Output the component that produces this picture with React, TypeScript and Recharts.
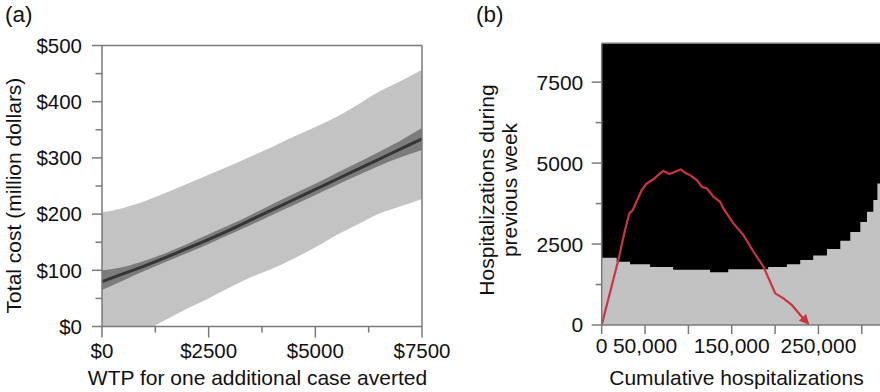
import React from "react";
import {
  ComposedChart,
  Area,
  Line,
  XAxis,
  YAxis,
  ReferenceLine,
  CartesianGrid,
  Label,
} from "recharts";

// ---------- Panel (a) data ----------
const wtp = [0, 500, 1000, 1500, 2000, 2500, 3000, 3500, 4000, 4500, 5000, 5500, 6000, 6500, 7000, 7500];
const outerLow = [-55, -35, -9, 12, 32, 50, 70, 88, 103, 121, 141, 163, 182, 201, 214, 227];
const outerHigh = [203, 211, 223, 238, 254, 270, 286, 303, 320, 338, 355, 373, 395, 418, 437, 457];
const innerLow = [65, 82, 99, 115, 131, 147, 164, 181, 199, 216, 234, 252, 269, 286, 301, 314];
const innerHigh = [100, 106, 117, 131, 147, 164, 181, 199, 218, 236, 254, 273, 292, 311, 331, 353];
const meanCost = [80, 94, 108, 123, 139, 155, 172, 190, 208, 226, 244, 262, 280, 298, 316, 334];

const costTicks = [0, 50, 100, 150, 200, 250, 300, 350, 400, 450, 500];
const costLabelTicks = [0, 100, 200, 300, 400, 500];
const wtpTicks = [0, 1250, 2500, 3750, 5000, 6250, 7500];
const wtpLabelTicks = [0, 2500, 5000, 7500];

// ---------- Panel (b) data ----------
const boundaryCum = [0, 17300, 32700, 55800, 82300, 125000, 146000, 192000, 213600, 229000, 244000, 259800, 275200, 286700, 298300, 306000, 313300, 318000, 321000];
const boundaryWeekly = [2080, 1950, 1880, 1790, 1710, 1630, 1720, 1790, 1880, 2010, 2150, 2350, 2600, 2870, 3180, 3500, 3860, 4370, 4900];

const trajCum = [0, 19200, 26900, 31900, 35800, 46200, 52000, 59600, 67300, 71100, 78100, 84600, 91200, 96200, 102000, 109700, 115500, 121200, 128900, 136600, 140400, 152000, 163500, 175100, 186600, 194300, 200100, 209700, 219400, 229000, 238600];
const trajWeekly = [0, 2006, 2932, 3447, 3549, 4166, 4372, 4496, 4681, 4763, 4660, 4732, 4804, 4700, 4630, 4475, 4269, 4218, 3960, 3806, 3600, 3138, 2777, 2262, 1800, 1337, 978, 824, 617, 309, 31];

const weeklyTop = 8700;
const cumMax = 321000;
const weeklyTicks = [0, 1250, 2500, 3750, 5000, 6250, 7500];
const weeklyLabelTicks = [0, 2500, 5000, 7500];
const cumTicks = [0, 50000, 100000, 150000, 200000, 250000, 300000];
const cumLabelTicks = [0, 50000, 150000, 250000];

const dataA = wtp.map((x, i) => ({
  x,
  outer: [outerLow[i], outerHigh[i]],
  inner: [innerLow[i], innerHigh[i]],
  mean: meanCost[i],
}));
const dataBoundary = boundaryCum.map((x, i) => ({ x, lo: boundaryWeekly[i] }));
const dataTraj = trajCum.map((x, i) => ({ x, w: trajWeekly[i] }));

const FONT = "'Liberation Sans', Arial, Helvetica, sans-serif";
const AXIS = "#7a7a7a";

const fmtNum = (v: number) => v.toLocaleString("en-US");

function makeYTick(labels: number[], fmt: (v: number) => string, majorLen: number, minorLen: number, gap: number, fontSize: number) {
  return (props: any) => {
    const { x, y, payload } = props;
    const isMajor = labels.includes(payload.value);
    const len = isMajor ? majorLen : minorLen;
    return (
      <g>
        <line x1={x - len} x2={x} y1={y} y2={y} stroke={AXIS} strokeWidth={1.5} />
        {isMajor && (
          <text x={x - gap} y={y} dy="0.355em" textAnchor="end" fontSize={fontSize} fontFamily={FONT} fill="#111">
            {fmt(payload.value)}
          </text>
        )}
      </g>
    );
  };
}

function makeXTick(labels: number[], fmt: (v: number) => string, majorLen: number, minorLen: number, baseline: number, fontSize: number) {
  return (props: any) => {
    const { x, y, payload } = props;
    const isMajor = labels.includes(payload.value);
    const len = isMajor ? majorLen : minorLen;
    return (
      <g>
        <line x1={x} x2={x} y1={y} y2={y + len} stroke={AXIS} strokeWidth={1.5} />
        {isMajor && (
          <text x={x} y={y + baseline} textAnchor="middle" fontSize={fontSize} fontFamily={FONT} fill="#111">
            {fmt(payload.value)}
          </text>
        )}
      </g>
    );
  };
}

const YTickA = makeYTick(costLabelTicks, (v) => `$${v}`, 10, 6.5, 20, 20.5);
const XTickA = makeXTick(wtpLabelTicks, (v) => `$${v}`, 11, 6, 31.5, 20.5);
const YTickB = makeYTick(weeklyLabelTicks, (v) => `${v}`, 10, 6, 18.4, 21);
const XTickB = makeXTick(cumLabelTicks, fmtNum, 9, 9, 28, 21);

export default function App() {
  return (
    <div style={{ position: "absolute", left: 0, top: 0, width: 880, height: 392, overflow: "hidden", background: "#fff" }}>
      <svg width={0} height={0} style={{ position: "absolute" }}>
        <defs>
          <marker id="redArrow" viewBox="0 0 10 10" refX="9" refY="5" markerUnits="userSpaceOnUse" markerWidth="12" markerHeight="10" orient="auto">
            <path d="M0,0 L10,5 L0,10 z" fill="#cc3340" />
          </marker>
        </defs>
      </svg>

      {/* Panel (a) */}
      <div style={{ position: "absolute", left: 0, top: 0 }}>
        <ComposedChart width={460} height={392} data={dataA} margin={{ top: 45.5, right: 38, bottom: 0, left: 0 }}>
          <XAxis
            dataKey="x"
            type="number"
            domain={[0, 7500]}
            ticks={wtpTicks}
            interval={0}
            tickSize={0}
            tickMargin={0}
            tickLine={false}
            tick={XTickA}
            height={65.5}
            axisLine={{ stroke: AXIS, strokeWidth: 1.5 }}
          >
            <Label
              content={() => (
                <text x={257.5} y={385} textAnchor="middle" fontSize={21} fontFamily={FONT} fill="#111">
                  WTP for one additional case averted
                </text>
              )}
            />
          </XAxis>
          <YAxis
            type="number"
            domain={[0, 500]}
            allowDataOverflow
            ticks={costTicks}
            interval={0}
            tickSize={0}
            tickMargin={0}
            tickLine={false}
            tick={YTickA}
            width={102}
            axisLine={{ stroke: AXIS, strokeWidth: 1.5 }}
          >
            <Label
              content={() => (
                <text transform="translate(21,195.5) rotate(-90)" textAnchor="middle" fontSize={21} fontFamily={FONT} fill="#111">
                  Total cost (million dollars)
                </text>
              )}
            />
          </YAxis>
          <Area dataKey="outer" type="monotone" stroke="none" fill="#c3c3c3" fillOpacity={1} isAnimationActive={false} />
          <Area dataKey="inner" type="monotone" stroke="none" fill="#7c7c7c" fillOpacity={1} isAnimationActive={false} />
          <Line dataKey="mean" type="monotone" stroke="#353535" strokeWidth={3} dot={false} activeDot={false} isAnimationActive={false} />
          <ReferenceLine y={500} stroke={AXIS} strokeWidth={1.5} />
          <ReferenceLine x={7500} stroke={AXIS} strokeWidth={1.5} />
        </ComposedChart>
      </div>

      {/* Panel (b) */}
      <div style={{ position: "absolute", left: 460, top: 0 }}>
        <ComposedChart width={420} height={392} data={dataBoundary} margin={{ top: 43.3, right: 0, bottom: 0, left: 0 }}>
          <CartesianGrid horizontal={false} vertical={false} fill="#c2c2c2" />
          <XAxis
            dataKey="x"
            type="number"
            domain={[0, cumMax]}
            allowDataOverflow
            ticks={cumTicks}
            interval={0}
            tickSize={0}
            tickMargin={0}
            tickLine={false}
            tick={XTickB}
            height={67}
            axisLine={{ stroke: AXIS, strokeWidth: 1.5 }}
          >
            <Label
              content={() => (
                <text x={276.5} y={385} textAnchor="middle" fontSize={21} fontFamily={FONT} fill="#111">
                  Cumulative hospitalizations
                </text>
              )}
            />
          </XAxis>
          <YAxis
            type="number"
            domain={[0, weeklyTop]}
            allowDataOverflow
            ticks={weeklyTicks}
            interval={0}
            tickSize={0}
            tickMargin={0}
            tickLine={false}
            tick={YTickB}
            width={141.7}
            axisLine={{ stroke: AXIS, strokeWidth: 1.5 }}
          >
            <Label
              content={() => (
                <g>
                  <text transform="translate(33.5,190) rotate(-90)" textAnchor="middle" fontSize={21} fontFamily={FONT} fill="#111">
                    Hospitalizations during
                  </text>
                  <text transform="translate(57,190) rotate(-90)" textAnchor="middle" fontSize={21} fontFamily={FONT} fill="#111">
                    previous week
                  </text>
                </g>
              )}
            />
          </YAxis>
          <Area dataKey="lo" type="stepAfter" baseValue={weeklyTop} stroke="none" fill="#000" fillOpacity={1} isAnimationActive={false} />
          <Line
            data={dataTraj}
            dataKey="w"
            type="linear"
            stroke="#cc3340"
            strokeWidth={2.2}
            dot={false}
            activeDot={false}
            markerEnd="url(#redArrow)"
            isAnimationActive={false}
          />
          <ReferenceLine y={weeklyTop} stroke={AXIS} strokeWidth={1.5} />
        </ComposedChart>
      </div>

      <svg width={880} height={392} style={{ position: "absolute", left: 0, top: 0, pointerEvents: "none" }}>
        <text x={5} y={21.5} fontSize={22.5} fontFamily={FONT} fill="#111">(a)</text>
        <text x={476} y={21.5} fontSize={22.5} fontFamily={FONT} fill="#111">(b)</text>
      </svg>
    </div>
  );
}
